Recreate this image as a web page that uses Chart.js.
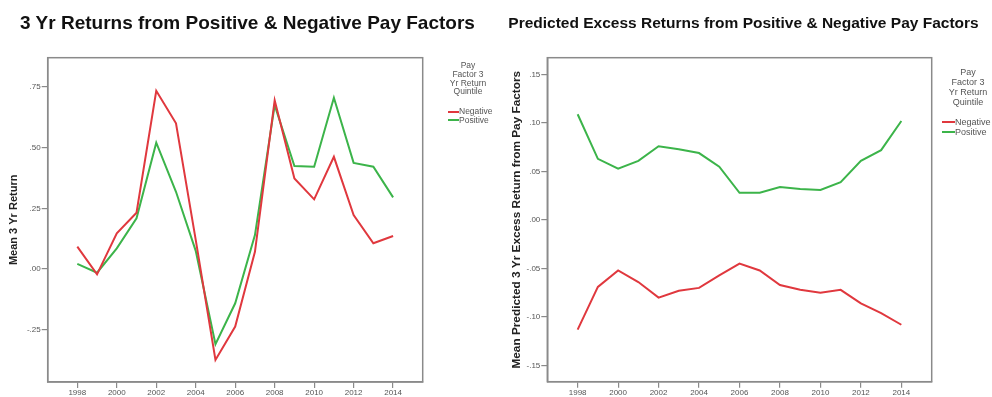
<!DOCTYPE html>
<html>
<head>
<meta charset="utf-8">
<script src="https://cdn.jsdelivr.net/npm/chart.js@4/dist/chart.umd.min.js"></script>
<style>
  html, body { margin: 0; padding: 0; background: #fff; }
  #wrap { position: relative; width: 992px; height: 397px; overflow: hidden;
          font-family: "Liberation Sans", Arial, sans-serif; }
  .panel { position: absolute; top: 0; width: 496px; height: 397px; }
  .title { position: absolute; top: 12px; white-space: nowrap; font-weight: bold; color: #111;
           transform: translateX(-50%); }
  .legend { position: absolute; color: #555; }
  .legend .ttl { text-align: center; }
  .legend .item { position: relative; white-space: nowrap; }
  .legend .sw { position: absolute; height: 2px; }
</style>
</head>
<body>
<div id="wrap">
  <div class="panel" style="left:0"><canvas id="cLeft" width="496" height="397"></canvas></div>
  <div class="panel" style="left:496px"><canvas id="cRight" width="496" height="397"></canvas></div>
  <div class="title" id="tLeft" style="left:247.5px; font-size:19px;"></div>
  <div class="title" id="tRight" style="left:743.5px; font-size:15.5px; top:14px;"></div>
  <div class="legend" id="legLeft" style="left:446px; top:61px; width:44px; font-size:8.5px; line-height:8.8px;"></div>
  <div class="legend" id="legRight" style="left:940px; top:66.5px; width:56px; font-size:9px; line-height:10px;"></div>
</div>
<script>
// Years on the x axis
const years = [1998, 1999, 2000, 2001, 2002, 2003, 2004, 2005, 2006, 2007, 2008, 2009, 2010, 2011, 2012, 2013, 2014];
const yearTicks = [1998, 2000, 2002, 2004, 2006, 2008, 2010, 2012, 2014];

// Mean 3 yr return by pay factor quintile
const returnNegative = [0.092, -0.022, 0.147, 0.232, 0.734, 0.600, 0.120, -0.374, -0.237, 0.071, 0.695, 0.373, 0.287, 0.462, 0.222, 0.106, 0.136];
const returnPositive = [0.021, -0.015, 0.085, 0.209, 0.520, 0.318, 0.075, -0.309, -0.141, 0.140, 0.675, 0.424, 0.421, 0.705, 0.437, 0.421, 0.295];
const returnTicks = [-0.25, 0, 0.25, 0.5, 0.75];

// Mean predicted 3 yr excess return from pay factors
const predNegative = [-0.113, -0.069, -0.052, -0.064, -0.080, -0.073, -0.070, -0.057, -0.045, -0.052, -0.067, -0.072, -0.075, -0.072, -0.086, -0.096, -0.108];
const predPositive = [0.109, 0.063, 0.053, 0.061, 0.076, 0.073, 0.069, 0.055, 0.028, 0.028, 0.034, 0.032, 0.031, 0.039, 0.061, 0.072, 0.102];
const predTicks = [-0.15, -0.10, -0.05, 0, 0.05, 0.10, 0.15];

const seriesNames = ['Negative', 'Positive'];
const seriesColors = ['#e0383e', '#3cb44a'];
const legendTitle = ['Pay', 'Factor 3', 'Yr Return', 'Quintile'];

const FONT = '"Liberation Sans", Arial, sans-serif';
const AXIS = '#8a8a8a';

function fmtDec(v) {
  return v.toFixed(2).replace(/^(-?)0\./, '$1.');
}

// box around the plotting area
const framePlugin = {
  id: 'frame',
  afterDraw(chart) {
    const a = chart.chartArea, ctx = chart.ctx;
    ctx.save();
    ctx.strokeStyle = AXIS;
    ctx.lineWidth = 1.5;
    ctx.strokeRect(a.left, a.top, a.right - a.left, a.bottom - a.top);
    ctx.restore();
  }
};

function makeChart(id, cfg) {
  document.getElementById(cfg.titleId).textContent = cfg.title;
  const datasets = [cfg.neg, cfg.pos].map((vals, i) => ({
    label: seriesNames[i],
    data: years.map((y, k) => ({ x: y, y: vals[k] })),
    borderColor: seriesColors[i],
    backgroundColor: seriesColors[i],
    borderWidth: 2,
    pointRadius: 0,
    tension: 0
  }));
  return new Chart(document.getElementById(id), {
    type: 'line',
    data: { datasets },
    plugins: [framePlugin],
    options: {
      responsive: false,
      animation: false,
      events: [],
      layout: { padding: { left: 0, right: cfg.padRight, top: cfg.top, bottom: 0 } },
      plugins: {
        legend: { display: false },
        tooltip: { enabled: false },
        title: { display: false }
      },
      scales: {
        x: {
          type: 'linear',
          min: 1996.5,
          max: 2015.5,
          afterFit: s => { s.height = 397 - cfg.bottom; },
          afterBuildTicks: s => { s.ticks = yearTicks.map(v => ({ value: v })); },
          ticks: { color: '#555', font: { family: FONT, size: 8 }, padding: 0,
                   maxRotation: 0, autoSkip: false, callback: v => String(v) },
          grid: { drawOnChartArea: false, drawTicks: true, tickLength: 6, color: AXIS, lineWidth: 1.2 },
          border: { display: true, color: AXIS, width: 1.5 }
        },
        y: {
          type: 'linear',
          min: cfg.yMin,
          max: cfg.yMax,
          afterFit: s => { s.width = cfg.left; },
          afterBuildTicks: s => { s.ticks = cfg.ticks.map(v => ({ value: v })); },
          ticks: { color: '#555', font: { family: FONT, size: 8 }, padding: 1,
                   autoSkip: false, callback: v => fmtDec(v) },
          grid: { drawOnChartArea: false, drawTicks: true, tickLength: 6, color: AXIS, lineWidth: 1.2 },
          border: { display: true, color: AXIS, width: 1.5 },
          title: {
            display: true,
            text: cfg.yTitle,
            color: '#222',
            font: { family: FONT, size: cfg.yTitleSize, weight: 'bold', lineHeight: 1.2 },
            padding: { top: cfg.yTitlePad, bottom: 0 }
          }
        }
      }
    }
  });
}

makeChart('cLeft', {
  titleId: 'tLeft',
  title: '3 Yr Returns from Positive & Negative Pay Factors',
  neg: returnNegative, pos: returnPositive,
  ticks: returnTicks, yMin: -0.465, yMax: 0.87,
  yTitle: 'Mean 3 Yr Return', yTitleSize: 11, yTitlePad: 7.8,
  left: 47.7, padRight: 496 - 422.7, top: 57.7, bottom: 382
});

makeChart('cRight', {
  titleId: 'tRight',
  title: 'Predicted Excess Returns from Positive & Negative Pay Factors',
  neg: predNegative, pos: predPositive,
  ticks: predTicks, yMin: -0.1667, yMax: 0.1673,
  yTitle: 'Mean Predicted 3 Yr Excess Return from Pay Factors', yTitleSize: 11.8, yTitlePad: 14,
  left: 51.3, padRight: 992 - 931.7, top: 57.7, bottom: 381.7
});

// legends: quintile title and a swatch per series
function buildLegend(id, swLeft, swW, gap, lh) {
  const el = document.getElementById(id);
  el.innerHTML = '<div class="ttl">' + legendTitle.join('<br>') + '</div>' +
    '<div style="height:' + gap + 'px"></div>' +
    seriesNames.map((n, i) =>
      '<div class="item"><span class="sw" style="top:' + (lh / 2 - 1) + 'px;left:' + swLeft + 'px;width:' + swW +
      'px;background:' + seriesColors[i] + '"></span><span style="margin-left:' + (swLeft + swW) + 'px">' + n +
      '</span></div>').join('');
}
buildLegend('legLeft', 2, 11, 11, 8.8);
buildLegend('legRight', 2, 13, 10, 10);
</script>
</body>
</html>
